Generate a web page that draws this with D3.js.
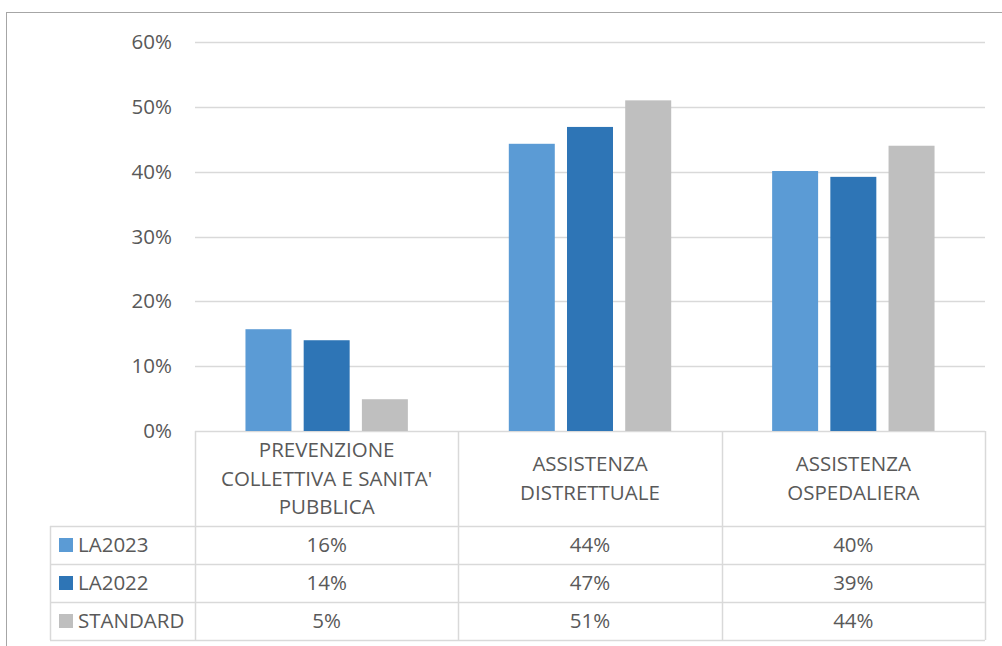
<!DOCTYPE html>
<html>
<head>
<meta charset="utf-8">
<script src="https://cdn.jsdelivr.net/npm/d3@7"></script>
<style>
  body { margin: 0; background: #fff; }
  text { font-family: "Open Sans", sans-serif; fill: #595959; }
</style>
</head>
<body>
<div id="chart"></div>
<script>
// data
var categories = [
  ["PREVENZIONE", "COLLETTIVA E SANITA'", "PUBBLICA"],
  ["ASSISTENZA", "DISTRETTUALE"],
  ["ASSISTENZA", "OSPEDALIERA"]
];
var seriesNames = ["LA2023", "LA2022", "STANDARD"];
var la2023 = [0.157, 0.443, 0.401];
var la2022 = [0.140, 0.469, 0.392];
var standard = [0.049, 0.510, 0.440];
var tableLabels = [
  ["16%", "44%", "40%"],
  ["14%", "47%", "39%"],
  ["5%", "51%", "44%"]
];
var yTicks = [0, 0.1, 0.2, 0.3, 0.4, 0.5, 0.6];
var colors = ["#5b9bd5", "#2e75b6", "#bfbfbf"];

var series = [la2023, la2022, standard];
var fs = 20.5;

var W = 1002, H = 646;
var svg = d3.select("#chart").append("svg")
  .attr("width", W).attr("height", H);

// chart frame
svg.append("rect")
  .attr("x", 6.5).attr("y", 12.5)
  .attr("width", 1100).attr("height", 700)
  .attr("fill", "none").attr("stroke", "#a6a6a6");

var plotLeft = 195, plotRight = 985, plotTop = 42, plotBottom = 431;

var x = d3.scaleBand()
  .domain(d3.range(categories.length))
  .range([plotLeft, plotRight]);

var xInner = d3.scaleBand()
  .domain(seriesNames)
  .range([0, x.bandwidth()])
  .paddingInner(0.21)
  .paddingOuter(0.867);

var y = d3.scaleLinear()
  .domain([0, 0.6])
  .range([plotBottom, plotTop]);

// gridlines
svg.append("g").selectAll("line")
  .data(yTicks)
  .enter().append("line")
  .attr("x1", plotLeft).attr("x2", plotRight)
  .attr("y1", function (d) { return Math.round(y(d)) + 0.5; })
  .attr("y2", function (d) { return Math.round(y(d)) + 0.5; })
  .attr("stroke", "#d9d9d9").attr("stroke-width", 1.5);

// y axis labels
var yAxis = d3.axisLeft(y)
  .tickValues(yTicks)
  .tickFormat(d3.format(".0%"))
  .tickSize(0)
  .tickPadding(0);

var yg = svg.append("g")
  .attr("transform", "translate(172,0)")
  .call(yAxis);
yg.select(".domain").remove();
yg.selectAll("text")
  .attr("font-size", fs)
  .style("font-family", "'Open Sans', sans-serif")
  .attr("fill", "#595959");

// bars
var groups = svg.append("g").selectAll("g")
  .data(categories)
  .enter().append("g")
  .attr("transform", function (d, i) { return "translate(" + x(i) + ",0)"; });

groups.selectAll("rect")
  .data(function (d, i) {
    return series.map(function (s, j) { return { name: seriesNames[j], value: s[i], color: colors[j] }; });
  })
  .enter().append("rect")
  .attr("x", function (d) { return xInner(d.name); })
  .attr("width", xInner.bandwidth())
  .attr("y", function (d) { return y(d.value); })
  .attr("height", function (d) { return plotBottom - y(d.value); })
  .attr("fill", function (d) { return d.color; });

// data table
var tableLeft = 50;
var headerBottom = 526, rowH = 38;
var lineColor = "#d9d9d9";
var table = svg.append("g");

// vertical lines
var vx = [plotLeft, x(1), x(2), plotRight];
vx.forEach(function (vv) {
  table.append("line")
    .attr("x1", Math.round(vv) + 0.5).attr("x2", Math.round(vv) + 0.5)
    .attr("y1", plotBottom).attr("y2", headerBottom + rowH * 3)
    .attr("stroke", lineColor).attr("stroke-width", 1.5);
});
table.append("line")
  .attr("x1", tableLeft + 0.5).attr("x2", tableLeft + 0.5)
  .attr("y1", headerBottom).attr("y2", headerBottom + rowH * 3)
  .attr("stroke", lineColor).attr("stroke-width", 1.5);

// horizontal lines
d3.range(4).forEach(function (r) {
  table.append("line")
    .attr("x1", tableLeft).attr("x2", plotRight)
    .attr("y1", headerBottom + r * rowH + 0.5).attr("y2", headerBottom + r * rowH + 0.5)
    .attr("stroke", lineColor).attr("stroke-width", 1.5);
});

// category header text
categories.forEach(function (lines, i) {
  var cx = x(i) + x.bandwidth() / 2;
  var lh = 28.5;
  var midY = (plotBottom + headerBottom) / 2;
  var start = midY - (lines.length - 1) * lh / 2;
  lines.forEach(function (t, k) {
    table.append("text")
      .attr("x", cx).attr("y", start + k * lh)
      .attr("dy", "0.35em")
      .attr("text-anchor", "middle")
      .attr("font-size", fs)
      .text(t);
  });
});

// rows
seriesNames.forEach(function (name, r) {
  var cy = headerBottom + r * rowH + rowH / 2;
  table.append("rect")
    .attr("x", 59).attr("y", cy - 7)
    .attr("width", 14).attr("height", 14)
    .attr("fill", colors[r]);
  table.append("text")
    .attr("x", 78).attr("y", cy).attr("dy", "0.35em")
    .attr("font-size", fs)
    .text(name);
  tableLabels[r].forEach(function (t, i) {
    table.append("text")
      .attr("x", x(i) + x.bandwidth() / 2).attr("y", cy).attr("dy", "0.35em")
      .attr("text-anchor", "middle")
      .attr("font-size", fs)
      .text(t);
  });
});
</script>
</body>
</html>
